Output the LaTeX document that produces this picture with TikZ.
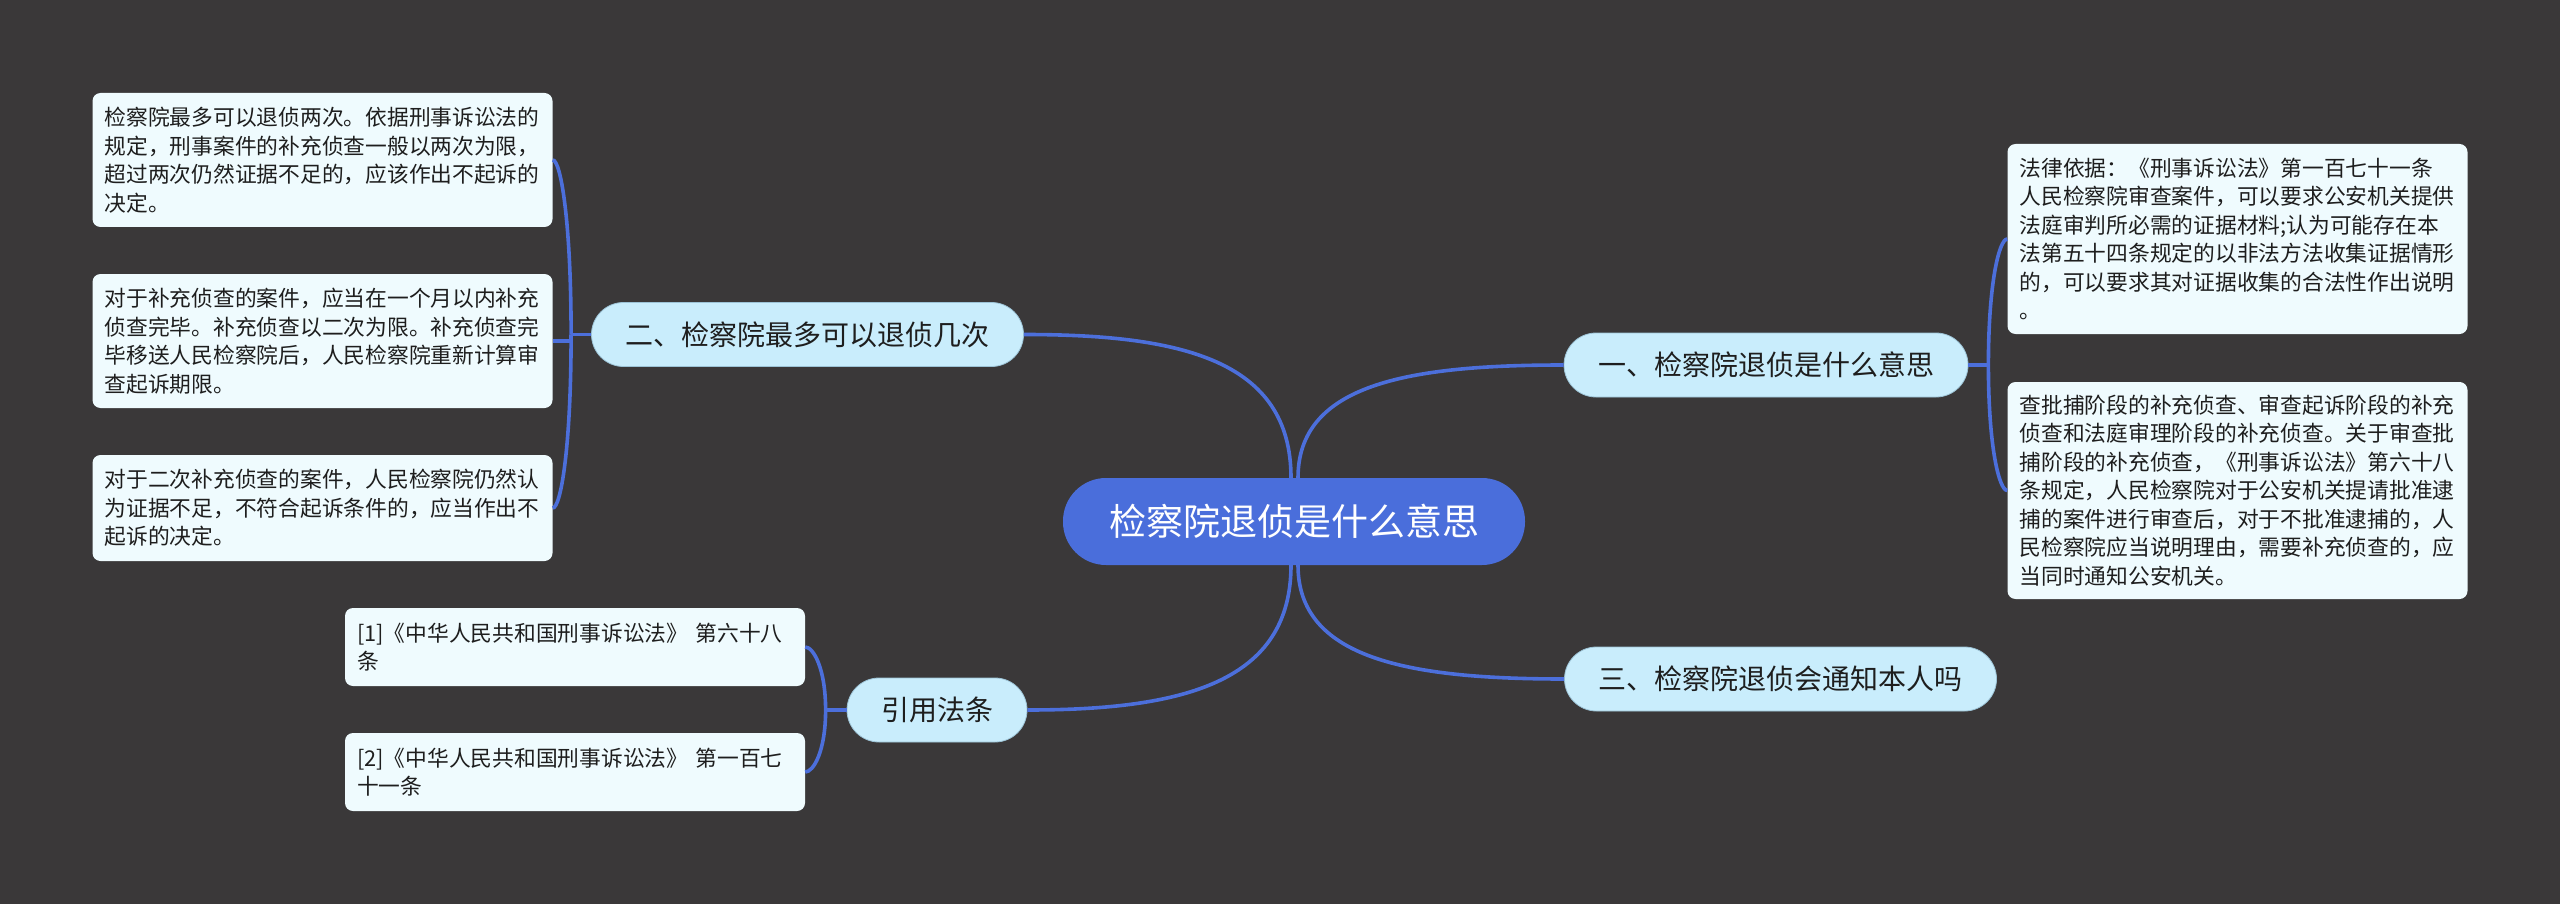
\documentclass[tikz,border=0pt]{standalone}
\usepackage{fontspec}
\setmainfont{Noto Sans CJK SC}
\usetikzlibrary{calc}
\definecolor{bgc}{HTML}{3A3839}
\definecolor{rootc}{HTML}{4A6EDB}
\definecolor{branchc}{HTML}{C9EDFC}
\definecolor{branchedge}{HTML}{9CC3D6}
\definecolor{leafc}{HTML}{EFFBFE}
\definecolor{linec}{HTML}{4C6FDB}
\definecolor{textc}{HTML}{1E1E1E}
\tikzset{
  conn/.style={draw=linec, line width=3.6pt},
  rootbox/.style={fill=rootc, rounded corners=43pt, minimum height=87pt, minimum width=462pt, inner xsep=0pt, text=white, font=\fontsize{37pt}{44pt}\selectfont},
  branchbox/.style={fill=branchc, draw=branchedge, line width=0.8pt, rounded corners=32pt, minimum height=64pt, inner xsep=34pt, text=textc, font=\fontsize{28pt}{34pt}\selectfont},
  leafbox/.style={fill=leafc, rounded corners=8pt, text width=436pt, inner xsep=12pt, inner ysep=0pt, align=left, text=textc, font=\fontsize{21.75pt}{28.5pt}\selectfont}
}
\begin{document}
\begin{tikzpicture}[x=1pt,y=-1pt]
\fill[bgc] (0,0) rectangle (2560,904);
\useasboundingbox (0,0) rectangle (2560,904);

% root
\node[rootbox] (c) at (1294,521.5) {检察院退侦是什么意思};

% branches
\node[branchbox, minimum width=431pt] (b2) at (807.5,334.5) {二、检察院最多可以退侦几次};
\node[branchbox, minimum width=402pt] (b1) at (1766,365) {一、检察院退侦是什么意思};
\node[branchbox, minimum width=431pt] (b3) at (1780.5,679) {三、检察院退侦会通知本人吗};
\node[branchbox, minimum width=180pt] (b4) at (937,710) {引用法条};

% left leaves
\node[leafbox, minimum height=134pt] (l1) at (322.5,160) {检察院最多可以退侦两次。依据刑事诉讼法的\\规定，刑事案件的补充侦查一般以两次为限，\\超过两次仍然证据不足的，应该作出不起诉的\\决定。};
\node[leafbox, minimum height=134pt] (l2) at (322.5,341) {对于补充侦查的案件，应当在一个月以内补充\\侦查完毕。补充侦查以二次为限。补充侦查完\\毕移送人民检察院后，人民检察院重新计算审\\查起诉期限。};
\node[leafbox, minimum height=106pt] (l3) at (322.5,508) {对于二次补充侦查的案件，人民检察院仍然认\\为证据不足，不符合起诉条件的，应当作出不\\起诉的决定。};

% references
\node[leafbox, minimum height=78pt] (f1) at (575,647) {[1]《中华人民共和国刑事诉讼法》 第六十八\\条};
\node[leafbox, minimum height=78pt] (f2) at (575,772) {[2]《中华人民共和国刑事诉讼法》 第一百七\\十一条};

% right leaves
\node[leafbox, minimum height=190pt] (r1) at (2237.5,239) {法律依据：《刑事诉讼法》第一百七十一条\\人民检察院审查案件，可以要求公安机关提供\\法庭审判所必需的证据材料;认为可能存在本\\法第五十四条规定的以非法方法收集证据情形\\的，可以要求其对证据收集的合法性作出说明\\。};
\node[leafbox, minimum height=217pt] (r2) at (2237.5,490.5) {查批捕阶段的补充侦查、审查起诉阶段的补充\\侦查和法庭审理阶段的补充侦查。关于审查批\\捕阶段的补充侦查，《刑事诉讼法》第六十八\\条规定，人民检察院对于公安机关提请批准逮\\捕的案件进行审查后，对于不批准逮捕的，人\\民检察院应当说明理由，需要补充侦查的，应\\当同时通知公安机关。};

% root connectors
\draw[conn] ([xshift=-3pt]c.north) .. controls +(0,-118) and +(157,0) .. (b2.east);
\draw[conn] ([xshift=4pt]c.north) .. controls +(0,-93) and +(-157,0) .. (b1.west);
\draw[conn] ([xshift=-3pt]c.south) .. controls +(0,117) and +(156,0) .. (b4.east);
\draw[conn] ([xshift=4pt]c.south) .. controls +(0,93) and +(-157,0) .. (b3.west);

% left bracket
\coordinate (jl) at ($(b2.west)+(-20,0)$);
\draw[conn] (b2.west) -- (jl);
\draw[conn] (jl) .. controls +(0,-114) and +(8,0) .. (l1.east);
\draw[conn] (jl) .. controls +(0,114) and +(8,0) .. (l3.east);
\draw[conn] (jl) -- (jl |- l2.east) -- (l2.east);

% right bracket
\coordinate (jr) at ($(b1.east)+(20,0)$);
\draw[conn] (b1.east) -- (jr);
\draw[conn] (jr) .. controls +(0,-83) and +(-8,0) .. (r1.west);
\draw[conn] (jr) .. controls +(0,83) and +(-8,0) .. (r2.west);

% reference bracket
\coordinate (jf) at ($(b4.west)+(-21,0)$);
\draw[conn] (b4.west) -- (jf);
\draw[conn] (jf) .. controls +(0,-42) and +(8,0) .. (f1.east);
\draw[conn] (jf) .. controls +(0,42) and +(8,0) .. (f2.east);
\end{tikzpicture}
\end{document}
